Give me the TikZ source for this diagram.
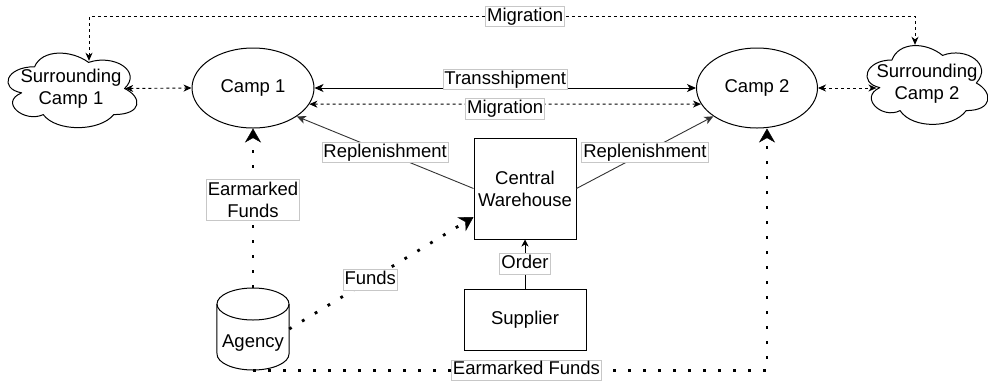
\documentclass[tikz,border=0pt]{standalone}
\usepackage{fontspec}
\setmainfont{Liberation Sans}
\usetikzlibrary{arrows.meta,shapes.geometric,calc}

\newcommand\drawiocloud[4]{%
  \begin{scope}[shift={(#1,#2)}, x=#3pt, y=-#4pt]
    \draw[shapeline] (0.25,0.25) .. controls (0.05,0.25) and (0,0.5) .. (0.16,0.55)
      .. controls (0,0.66) and (0.18,0.9) .. (0.31,0.8)
      .. controls (0.4,1) and (0.7,1) .. (0.8,0.8)
      .. controls (1,0.8) and (1,0.6) .. (0.875,0.5)
      .. controls (1,0.3) and (0.8,0.1) .. (0.625,0.2)
      .. controls (0.5,0.05) and (0.3,0.05) .. (0.25,0.25) -- cycle;
  \end{scope}}

\begin{document}
\begin{tikzpicture}[x=1pt,y=-1pt,
  shapeline/.style={draw=black, line width=1pt, line join=round},
  txt/.style={font=\fontsize{18.5}{22}\selectfont, align=center},
  ell/.style={ellipse, draw, line width=1pt, minimum width=122pt, minimum height=80pt, inner sep=0pt, txt},
  boxnode/.style={rectangle, draw, line width=1pt, inner sep=0pt, txt},
  ghost/.style={rectangle, inner sep=0pt, txt},
  lab/.style={solid, fill=white, draw=black!22, line width=0.8pt, inner xsep=1.5pt, inner ysep=1.5pt, text height=13.5pt, text depth=4pt, font=\fontsize{18.5}{22}\selectfont},
  labtwo/.style={solid, fill=white, draw=black!22, line width=0.8pt, inner xsep=1.5pt, inner ysep=2.5pt, txt},
  dsh/.style={line width=0.9pt, dash pattern=on 3pt off 3pt, {Stealth[length=8pt,width=7pt,inset=2.5pt]}-{Stealth[length=8pt,width=7pt,inset=2.5pt]}},
  solidboth/.style={line width=1pt, {Stealth[length=9pt,width=8pt,inset=2.5pt]}-{Stealth[length=9pt,width=8pt,inset=2.5pt]}},
  solidone/.style={line width=0.9pt, draw=black!80, -{Stealth[length=9pt,width=8pt,inset=2.5pt]}},
  ordline/.style={line width=0.9pt, -{Stealth[length=7pt,width=7pt,inset=2pt]}},
  fund/.style={line width=2.8pt, dash pattern=on 2.8pt off 12.2pt, -{Stealth[length=14pt,width=16pt,inset=4.5pt,line width=0.5pt]}}
]
\fill[white] (0,0) rectangle (988,381);
\useasboundingbox (0,0) rectangle (988,381);

% clouds
\drawiocloud{-1.4}{45}{144}{87}
\drawiocloud{858.2}{37}{135}{92}
\node[ghost, minimum width=108pt, minimum height=55pt] (s1) at (71,88.5) {Surrounding\\Camp 1};
\node[ghost, minimum width=98pt, minimum height=78pt] (s2) at (927,84) {Surrounding\\Camp 2};

% camps
\node[ell] (camp1) at (253,88) {Camp 1};
\node[ell, minimum width=121pt] (camp2) at (757,88) {Camp 2};

% warehouse and supplier
\node[boxnode, minimum width=102pt, minimum height=101pt] (wh) at (525,188.5) {Central\\Warehouse};
\node[boxnode, minimum width=122pt, minimum height=61pt] (sup) at (525,319.5) {Supplier};

% agency cylinder
\node[ghost, minimum width=72pt, minimum height=82pt] (agency) at (253,329) {};
\draw[shapeline] (agency.north west) ++(0,16) -- (217,354)
  arc[start angle=180, end angle=360, x radius=36pt, y radius=16pt] -- (289,304);
\draw[shapeline] (253,304) ellipse [x radius=36pt, y radius=16pt];
\node[txt] (agencytext) at (253,343) {Agency};

% connectors
\draw[dsh] ([xshift=18pt]s1.north) -- ++(0,-44.3) -| node[lab, pos=0.264] {Migration} ([xshift=-12pt]s2.north);
\draw[dsh] (s1.east) -- (camp1.west);
\draw[dsh] (camp2.east) -- (camp2.east -| s2.west);
\draw[solidboth] (camp1.east) -- node[lab, yshift=8.5pt] {Transshipment} (camp2.west);
\draw[dsh] (camp1.-16) -- node[lab, yshift=-5pt] {Migration} (camp2.196);
\draw[solidone] (wh.west) -- node[lab] {Replenishment} (camp1.-33);
\draw[solidone] (wh.east) -- node[lab] {Replenishment} (camp2.213);
\draw[ordline] (sup.north) -- node[lab] {Order} (wh.south);
\draw[fund] (agency.north) -- node[labtwo, pos=0.55] {Earmarked\\Funds} (camp1.south);
\draw[fund] (agency.east) -- node[lab, pos=0.44] {Funds} ([yshift=-28.5pt]wh.west);
\draw[fund] (agency.south) -| node[lab, pos=0.266] {Earmarked Funds} ([xshift=10pt]camp2.south);
\end{tikzpicture}
\end{document}
